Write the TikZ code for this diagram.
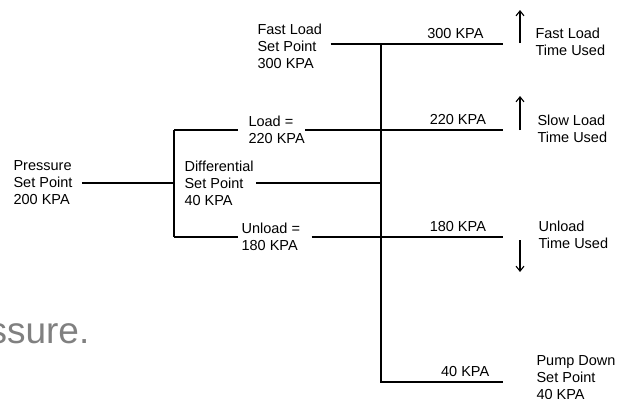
\documentclass[tikz,border=0pt]{standalone}
\usepackage{fontspec}
\setmainfont{Liberation Sans}
\usetikzlibrary{arrows.meta}

\begin{document}
\begin{tikzpicture}[x=1pt,y=-1pt,>={Straight Barb[length=5pt,width=8pt]},line width=1.1pt,
  every node/.style={font=\fontsize{14.5}{17}\selectfont},
  txt/.style={align=left,inner sep=0pt,anchor=west},
  kpa/.style={above,inner sep=5pt}]
\useasboundingbox (0,0) rectangle (625,399);
% junctions
\coordinate (jl) at (174,183);
\coordinate (jlt) at (174,130);
\coordinate (jlb) at (174,237);
\coordinate (mt) at (381,44);
\coordinate (m220) at (381,130);
\coordinate (mm) at (381,183);
\coordinate (m180) at (381,237);
\coordinate (mb) at (381,382);
\coordinate (e300) at (503,44);
\coordinate (e220) at (503,130);
\coordinate (e180) at (503,237);
\coordinate (e40) at (503,382);
% text
\node[txt] (psp) at (13,183) {Pressure\\Set Point\\200 KPA};
\node[txt] (dsp) at (184,183) {Differential\\Set Point\\40 KPA};
\node[txt] (fsp) at (257,46) {Fast Load\\Set Point\\300 KPA};
\node[txt] (ld) at (248,130) {Load =\\220 KPA};
\node[txt] (ul) at (241,237) {Unload =\\180 KPA};
\node[txt] (ftu) at (535,42) {Fast Load\\Time Used};
\node[txt] (stu) at (537,129) {Slow Load\\Time Used};
\node[txt] (utu) at (538,235) {Unload\\Time Used};
\node[txt] (pdsp) at (536,378) {Pump Down\\Set Point\\40 KPA};
\node[anchor=base west,inner sep=0pt,text=gray,font=\fontsize{37}{40}\selectfont] (slide) at (-12,343) {ssure.};
% lines
\draw[shorten <=9pt] (psp.east) -- (jl);
\draw (jlt) -- (jlb);
\draw[shorten >=10pt] (jlt) -- (ld.west);
\draw (ld.east) -- (e220);
\draw[shorten >=3pt] (jlb) -- (ul.west);
\draw[shorten <=11pt] (ul.east) -- (e180);
\draw[shorten <=2pt] (dsp.east) -- (mm);
\draw[shorten <=8pt] (fsp.east |- mt) -- (e300);
\draw (mt) -- (mb) -- (e40);
% set points
\path (mt) -- node[kpa,pos=.61] {300 KPA} (e300);
\path (m220) -- node[kpa,pos=.63] {220 KPA} (e220);
\path (m180) -- node[kpa,pos=.63] {180 KPA} (e180);
\path (mb) -- node[kpa,pos=.69] {40 KPA} (e40);
% time used
\draw[->] (520,43) -- (520,10);
\draw[->] (520,130) -- (520,96);
\draw[->] (520,240) -- (520,272);
\end{tikzpicture}
\end{document}
